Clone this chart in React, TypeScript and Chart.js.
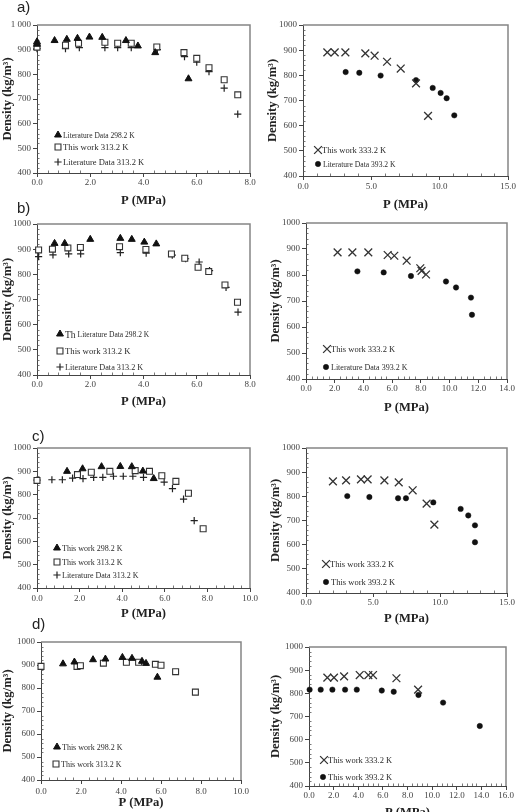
import React, { useEffect, useRef } from 'react';
import { Chart, registerables } from 'chart.js';
import { drawPoint } from 'chart.js/helpers';

Chart.register(...registerables);

// ---------- DATA ----------
// a) left
const A_TRI_X = [0.0, 0.0, 0.66, 1.12, 1.52, 1.97, 2.45, 3.34, 3.79, 4.44, 5.69];
const A_TRI_Y = [932, 922, 937, 942, 946, 951, 950, 937, 915, 888, 782];
const A_SQ_X = [0.0, 1.07, 1.56, 2.55, 3.03, 3.54, 4.5, 5.52, 6.0, 6.46, 7.03, 7.54];
const A_SQ_Y = [910, 918, 926, 930, 926, 926, 911, 888, 865, 827, 778, 717];
const A_PLUS_X = [0.0, 1.07, 1.59, 2.55, 3.03, 3.54, 4.52, 5.54, 6.0, 6.46, 7.03, 7.54];
const A_PLUS_Y = [904, 904, 908, 908, 908, 908, 900, 872, 849, 811, 744, 639];
// a) right
const AR_X_X = [1.78, 2.32, 3.1, 4.56, 5.24, 6.15, 7.15, 8.27, 9.15];
const AR_X_Y = [891, 891, 891, 887, 878, 854, 827, 768, 639];
const AR_C_X = [3.12, 4.12, 5.68, 8.27, 9.49, 10.07, 10.51, 11.07];
const AR_C_Y = [813, 810, 799, 781, 750, 730, 709, 641];
// b) left
const B_TRI_X = [0.66, 1.04, 2.0, 3.13, 3.56, 4.03, 4.48];
const B_TRI_Y = [923, 923, 939, 943, 939, 928, 921];
const B_SQ_X = [0.06, 0.58, 1.16, 1.63, 3.1, 4.09, 5.05, 5.55, 6.05, 6.45, 7.06, 7.53];
const B_SQ_Y = [897, 900, 905, 907, 910, 899, 881, 864, 828, 811, 758, 689];
const B_PLUS_X = [0.06, 0.6, 1.19, 1.64, 3.13, 4.1, 5.08, 5.58, 6.09, 6.48, 7.1, 7.55];
const B_PLUS_Y = [870, 877, 881, 881, 886, 884, 876, 862, 849, 815, 748, 650];
// b) right
const BR_X_X = [2.2, 3.23, 4.34, 5.69, 6.15, 7.01, 7.96, 8.05, 8.36];
const BR_X_Y = [887, 887, 887, 877, 874, 855, 826, 816, 802];
const BR_C_X = [3.58, 5.41, 7.31, 9.75, 10.45, 11.49, 11.56];
const BR_C_Y = [814, 810, 796, 775, 752, 713, 647];
// c) left
const C_TRI_X = [1.41, 2.14, 3.03, 3.91, 4.45, 4.97, 5.48];
const C_TRI_Y = [900, 911, 920, 921, 920, 901, 869];
const C_SQ_X = [0.0, 1.9, 2.55, 3.42, 4.61, 5.28, 5.86, 6.52, 7.11, 7.8];
const C_SQ_Y = [861, 886, 896, 900, 903, 900, 881, 857, 806, 654];
const C_PLUS_X = [0.0, 0.7, 1.19, 1.67, 2.16, 2.66, 3.09, 3.59, 4.05, 4.5, 5.0, 5.97, 6.36, 6.88, 7.38];
const C_PLUS_Y = [862, 864, 864, 871, 869, 874, 874, 879, 879, 879, 874, 854, 826, 781, 689];
// c) right
const CR_X_X = [2.01, 2.99, 4.1, 4.6, 5.85, 6.92, 7.96, 9.0, 9.58];
const CR_X_Y = [862, 866, 870, 870, 866, 858, 825, 770, 683];
const CR_C_X = [3.08, 4.73, 6.87, 7.46, 9.5, 11.54, 12.11, 12.61, 12.61];
const CR_C_Y = [801, 797, 792, 792, 775, 748, 721, 680, 610];
// d) left
const D_TRI_X = [1.1, 1.67, 2.6, 3.22, 4.07, 4.55, 5.05, 5.25, 5.82];
const D_TRI_Y = [905, 913, 923, 926, 933, 929, 916, 907, 847];
const D_SQ_X = [0.0, 1.8, 1.97, 3.12, 4.27, 4.88, 5.72, 6.0, 6.73, 7.72];
const D_SQ_Y = [894, 894, 897, 908, 912, 912, 903, 899, 871, 782];
// d) right
const DR_X_X = [1.49, 2.03, 2.85, 4.12, 4.82, 5.2, 7.1, 8.86];
const DR_X_Y = [868, 868, 873, 879, 879, 879, 865, 816];
const DR_C_X = [0.05, 0.95, 1.9, 2.93, 3.88, 5.91, 6.88, 8.89, 10.89, 13.87];
const DR_C_Y = [816, 816, 816, 816, 816, 812, 807, 793, 760, 659];

const Y_MIN = 400;
const Y_MAX = 1000;
const Y_STEP = 100;
const X_TITLE = 'P (MPa)';
const Y_TITLE = 'Density (kg/m³)';

// ---------- STYLES ----------
type MarkKind = 'tri' | 'sq' | 'plus' | 'circ' | 'x';
const MARKS: Record<MarkKind, any> = {
  tri: { pointStyle: 'triangle', pointRadius: 4, pointBackgroundColor: '#111', pointBorderColor: '#111', pointBorderWidth: 1 },
  sq: { pointStyle: 'rect', pointRadius: 4.2, pointBackgroundColor: '#fff', pointBorderColor: '#333', pointBorderWidth: 1.1 },
  plus: { pointStyle: 'cross', pointRadius: 3.6, pointBackgroundColor: '#222', pointBorderColor: '#222', pointBorderWidth: 1.2 },
  circ: { pointStyle: 'circle', pointRadius: 2.7, pointBackgroundColor: '#111', pointBorderColor: '#111', pointBorderWidth: 0.5 },
  x: { pointStyle: 'crossRot', pointRadius: 5.5, pointBackgroundColor: '#333', pointBorderColor: '#333', pointBorderWidth: 1.3 },
};

interface Series {
  label: string;
  xs: number[];
  ys: number[];
  mark: MarkKind;
  legend: [number, number];
  size: number;
  prefix?: string;
}
interface Panel {
  key: string;
  right: boolean;
  plot: [number, number, number, number];
  xMax: number;
  xStep: number;
  yThousandSpace?: boolean;
  xTickY: number;
  xTitleY: number;
  yTitleX: number;
  series: Series[];
}

const PANELS: Panel[] = [
  {
    key: 'aL', right: false, plot: [37, 25, 250, 173], xMax: 8, xStep: 2, yThousandSpace: true,
    xTickY: 183, xTitleY: 200, yTitleX: 7,
    series: [
      { label: 'Literature Data 298.2 K', xs: A_TRI_X, ys: A_TRI_Y, mark: 'tri', legend: [58, 135], size: 7.5 },
      { label: 'This work 313.2 K', xs: A_SQ_X, ys: A_SQ_Y, mark: 'sq', legend: [58, 147], size: 8.7 },
      { label: 'Literature Data 313.2 K', xs: A_PLUS_X, ys: A_PLUS_Y, mark: 'plus', legend: [58, 162], size: 8.5 },
    ],
  },
  {
    key: 'aR', right: true, plot: [303, 25, 508, 176], xMax: 15, xStep: 5,
    xTickY: 187, xTitleY: 204, yTitleX: 273,
    series: [
      { label: 'This work 333.2 K', xs: AR_X_X, ys: AR_X_Y, mark: 'x', legend: [318, 150], size: 8.5 },
      { label: 'Literature Data 393.2 K', xs: AR_C_X, ys: AR_C_Y, mark: 'circ', legend: [318, 164], size: 7.6 },
    ],
  },
  {
    key: 'bL', right: false, plot: [37, 224, 250, 375], xMax: 8, xStep: 2,
    xTickY: 385, xTitleY: 401, yTitleX: 7,
    series: [
      { label: 'Literature Data 298.2 K', prefix: 'Th', xs: B_TRI_X, ys: B_TRI_Y, mark: 'tri', legend: [60, 334], size: 7.5 },
      { label: 'This work 313.2 K', xs: B_SQ_X, ys: B_SQ_Y, mark: 'sq', legend: [60, 351], size: 8.7 },
      { label: 'Literature Data 313.2 K', xs: B_PLUS_X, ys: B_PLUS_Y, mark: 'plus', legend: [60, 367], size: 8.2 },
    ],
  },
  {
    key: 'bR', right: true, plot: [306, 223, 507, 379], xMax: 14, xStep: 2,
    xTickY: 389, xTitleY: 407, yTitleX: 276,
    series: [
      { label: 'This work 333.2 K', xs: BR_X_X, ys: BR_X_Y, mark: 'x', legend: [327, 349], size: 8.5 },
      { label: 'Literature Data 393.2 K', xs: BR_C_X, ys: BR_C_Y, mark: 'circ', legend: [326, 367], size: 8 },
    ],
  },
  {
    key: 'cL', right: false, plot: [37, 448, 250, 588], xMax: 10, xStep: 2,
    xTickY: 599, xTitleY: 613, yTitleX: 7,
    series: [
      { label: 'This work 298.2 K', xs: C_TRI_X, ys: C_TRI_Y, mark: 'tri', legend: [57, 548], size: 8 },
      { label: 'This work 313.2 K', xs: C_SQ_X, ys: C_SQ_Y, mark: 'sq', legend: [57, 562], size: 8 },
      { label: 'Literature Data 313.2 K', xs: C_PLUS_X, ys: C_PLUS_Y, mark: 'plus', legend: [57, 575], size: 8 },
    ],
  },
  {
    key: 'cR', right: true, plot: [306, 448, 507, 593], xMax: 15, xStep: 5,
    xTickY: 603, xTitleY: 618, yTitleX: 276,
    series: [
      { label: 'This work 333.2 K', xs: CR_X_X, ys: CR_X_Y, mark: 'x', legend: [326, 564], size: 8.5 },
      { label: 'This work 393.2 K', xs: CR_C_X, ys: CR_C_Y, mark: 'circ', legend: [326, 582], size: 8.5 },
    ],
  },
  {
    key: 'dL', right: false, plot: [41, 642, 241, 780], xMax: 10, xStep: 2,
    xTickY: 792, xTitleY: 802, yTitleX: 7,
    series: [
      { label: 'This work 298.2 K', xs: D_TRI_X, ys: D_TRI_Y, mark: 'tri', legend: [57, 747], size: 8 },
      { label: 'This work 313.2 K', xs: D_SQ_X, ys: D_SQ_Y, mark: 'sq', legend: [56, 764], size: 8 },
    ],
  },
  {
    key: 'dR', right: true, plot: [309, 647, 506, 786], xMax: 16, xStep: 2,
    xTickY: 796, xTitleY: 812, yTitleX: 276,
    series: [
      { label: 'This work 333.2 K', xs: DR_X_X, ys: DR_X_Y, mark: 'x', legend: [324, 760], size: 8.5 },
      { label: 'This work 393.2 K', xs: DR_C_X, ys: DR_C_Y, mark: 'circ', legend: [323, 777], size: 8.5 },
    ],
  },
];

const LETTERS = [
  { text: 'a)', x: 17, y: -1 },
  { text: 'b)', x: 17, y: 200 },
  { text: 'c)', x: 32, y: 428 },
  { text: 'd)', x: 32, y: 616 },
];

const SERIF = '"Liberation Serif", "Times New Roman", serif';
const TITLE_SIZE = 12.6;
const TICK_SIZE = 9;

// ---------- PLUGINS ----------
const framePlugin = {
  id: 'frame',
  beforeDatasetsDraw(chart: any, _a: any, opts: any) {
    const { ctx, chartArea: ca, scales } = chart;
    ctx.save();
    // minor ticks (inside)
    ctx.strokeStyle = '#555';
    ctx.lineWidth = 0.8;
    const ys = scales.y;
    for (let v = ys.min; v <= ys.max + 1e-6; v += 20) {
      if (Math.abs(v % 100) < 1e-6) continue;
      const py = Math.round(ys.getPixelForValue(v)) + 0.5;
      ctx.beginPath();
      ctx.moveTo(ca.left, py);
      ctx.lineTo(ca.left + 2.5, py);
      ctx.stroke();
    }
    const xs = scales.x;
    const minor = opts.xStep / 5;
    for (let i = 1; xs.min + i * minor < xs.max - 1e-6; i++) {
      if (i % 5 === 0) continue;
      const px = Math.round(xs.getPixelForValue(xs.min + i * minor)) + 0.5;
      ctx.beginPath();
      ctx.moveTo(px, ca.bottom);
      ctx.lineTo(px, ca.bottom - 2.5);
      ctx.stroke();
    }
    // top & right frame
    ctx.strokeStyle = '#858585';
    ctx.lineWidth = 1.5;
    ctx.beginPath();
    ctx.moveTo(ca.left, ca.top);
    ctx.lineTo(ca.right, ca.top);
    ctx.lineTo(ca.right, ca.bottom);
    ctx.stroke();
    ctx.restore();
  },
};

const legendPlugin = {
  id: 'insideLegend',
  afterDatasetsDraw(chart: any, _a: any, opts: any) {
    const { ctx } = chart;
    const items = opts.items || [];
    chart.data.datasets.forEach((ds: any, i: number) => {
      const it = items[i];
      if (!it) return;
      const x = it.x - opts.ox;
      const y = it.y - opts.oy;
      ctx.save();
      ctx.fillStyle = ds.pointBackgroundColor;
      ctx.strokeStyle = ds.pointBorderColor;
      ctx.lineWidth = ds.pointBorderWidth;
      drawPoint(ctx, { pointStyle: ds.pointStyle, radius: ds.pointRadius, borderWidth: ds.pointBorderWidth, rotation: 0 } as any, x, y);
      ctx.fillStyle = '#2a2a2a';
      ctx.textBaseline = 'middle';
      let tx = x + (ds.pointStyle === 'crossRot' ? 4 : 5);
      if (it.prefix) {
        ctx.font = `9.5px ${SERIF}`;
        ctx.fillText(it.prefix, tx, y + 1.5);
        tx += ctx.measureText(it.prefix).width + 2;
      }
      ctx.font = `${it.size}px ${SERIF}`;
      ctx.fillText(ds.label, tx, y + 1);
      ctx.restore();
    });
  },
};

// ---------- COMPONENTS ----------
function PanelChart({ p }: { p: Panel }) {
  const ref = useRef<HTMLCanvasElement | null>(null);
  const [pl, pt, pr, pb] = p.plot;
  const cx = p.right ? 258 : 0;
  const cy = pt - 25;
  const cw = pr - cx + 22;
  const half = (TITLE_SIZE * 1.2) / 2;
  const ch = Math.round(p.xTitleY + half - cy);

  useEffect(() => {
    if (!ref.current) return;
    const yAxisW = pl - cx;
    const xAxisH = cy + ch - pb;
    const tickPad = Math.max(0, p.xTickY - pb - 4 - (TICK_SIZE * 1.2) / 2);
    const yTitlePad = Math.max(0, p.yTitleX - cx - half);
    const chart = new Chart(ref.current, {
      type: 'scatter',
      data: {
        datasets: p.series.map((s) => ({
          label: s.label,
          data: s.xs.map((x, i) => ({ x, y: s.ys[i] })),
          showLine: false,
          clip: false as any,
          ...MARKS[s.mark],
        })),
      },
      options: {
        animation: false,
        responsive: false,
        events: [],
        layout: { padding: { top: pt - cy, right: cx + cw - pr, left: 0, bottom: 0 } },
        plugins: {
          legend: { display: false },
          tooltip: { enabled: false },
          frame: { xStep: p.xStep },
          insideLegend: {
            ox: cx,
            oy: cy,
            items: p.series.map((s) => ({ x: s.legend[0], y: s.legend[1], size: s.size, prefix: s.prefix })),
          },
        } as any,
        scales: {
          x: {
            type: 'linear',
            min: 0,
            max: p.xMax,
            afterFit: (sc: any) => { sc.height = xAxisH; },
            grid: { drawOnChartArea: false, drawTicks: true, tickLength: 4, color: '#444' },
            border: { color: '#444', width: 1 },
            ticks: {
              stepSize: p.xStep,
              autoSkip: false,
              maxRotation: 0,
              padding: tickPad,
              color: '#444',
              font: { family: SERIF, size: TICK_SIZE },
              callback: (v: any) => Number(v).toFixed(1),
            },
            title: {
              display: true,
              text: X_TITLE,
              color: '#222',
              font: { family: SERIF, size: TITLE_SIZE, weight: 'bold' },
              padding: { top: 0, bottom: 0 },
            },
          },
          y: {
            type: 'linear',
            min: Y_MIN,
            max: Y_MAX,
            afterFit: (sc: any) => { sc.width = yAxisW; },
            grid: { drawOnChartArea: false, drawTicks: true, tickLength: 4, color: '#444' },
            border: { color: '#444', width: 1 },
            ticks: {
              stepSize: Y_STEP,
              padding: 2,
              color: '#444',
              font: { family: SERIF, size: TICK_SIZE },
              callback: (v: any) => (p.yThousandSpace && v >= 1000 ? String(v).replace(/(\d)(\d{3})$/, '$1 $2') : String(v)),
            },
            title: {
              display: true,
              text: Y_TITLE,
              color: '#222',
              font: { family: SERIF, size: TITLE_SIZE, weight: 'bold' },
              padding: { top: yTitlePad, bottom: 0 },
            },
          },
        },
      } as any,
      plugins: [framePlugin, legendPlugin],
    });
    return () => chart.destroy();
  }, []);

  return (
    <canvas
      ref={ref}
      width={cw}
      height={ch}
      style={{ position: 'absolute', left: cx, top: cy, width: cw, height: ch }}
    />
  );
}

export default function App() {
  return (
    <div
      style={{
        position: 'absolute',
        left: 0,
        top: 0,
        width: 516,
        height: 812,
        overflow: 'hidden',
        background: '#fff',
      }}
    >
      {PANELS.map((p) => (
        <PanelChart key={p.key} p={p} />
      ))}
      {LETTERS.map((l) => (
        <div
          key={l.text}
          style={{
            position: 'absolute',
            left: l.x,
            top: l.y,
            font: '15px "Liberation Sans", Arial, sans-serif',
            lineHeight: '15px',
            color: '#222',
          }}
        >
          {l.text}
        </div>
      ))}
    </div>
  );
}
